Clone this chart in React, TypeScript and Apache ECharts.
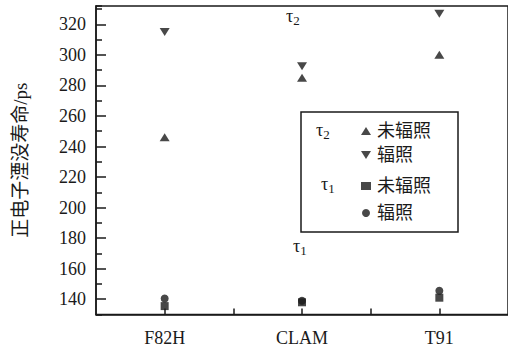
import React, { useEffect, useRef } from "react";
import * as echarts from "echarts";

const categories = ["F82H", "CLAM", "T91"];
const tau2Unirradiated = [246, 285, 300];
const tau2Irradiated = [315, 292.5, 327];
const tau1Unirradiated = [135.5, 138, 141];
const tau1Irradiated = [140.5, 139, 145.5];
const yTickLabels = [140, 160, 180, 200, 220, 240, 260, 280, 300, 320];

const SERIF = "'Liberation Serif', 'Times New Roman', serif";
const CJK = "'Liberation Serif', 'Noto Sans CJK SC', serif";
const INK = "#1a1a1a";
const DOWN_TRIANGLE = "path://M0,0 L10,0 L5,8 Z";

const toPoints = (vals: number[]) => vals.map((v, i) => [i + 1, v]);

const tauRich = {
  t: { fontSize: 18, fontFamily: SERIF, fill: INK, color: INK },
  s: { fontSize: 13, fontFamily: SERIF, fill: INK, color: INK, padding: [9, 0, 0, 0] },
};

export default function App() {
  const ref = useRef<HTMLDivElement>(null);
  useEffect(() => {
    if (!ref.current) return;
    const chart = echarts.init(ref.current, null, { renderer: "svg" });
    const grid = { left: 96, right: -4, top: 6, bottom: 35.5 };
    const legendText = { fontSize: 18, lineHeight: 20, fontFamily: CJK, color: INK, padding: [0, 0, 0, 1] };
    chart.setOption({
      animation: false,
      backgroundColor: "#ffffff",
      grid: { ...grid, show: true, borderColor: INK, borderWidth: 1.5, backgroundColor: "transparent" },
      xAxis: {
        type: "value",
        min: 0.5,
        max: 3.5,
        interval: 0.5,
        splitLine: { show: false },
        axisLine: { show: true, lineStyle: { color: INK, width: 1.5 } },
        axisTick: { show: true, inside: true, length: 6, lineStyle: { color: INK, width: 1.5 } },
        axisLabel: {
          margin: 14,
          fontSize: 18,
          fontFamily: SERIF,
          color: INK,
          showMinLabel: false,
          showMaxLabel: false,
          formatter: (v: number) => (Number.isInteger(v) && v >= 1 && v <= categories.length ? categories[v - 1] : ""),
        },
      },
      yAxis: [
        {
          type: "value",
          min: 130,
          max: 332,
          interval: 20,
          splitLine: { show: false },
          axisLine: { show: true, lineStyle: { color: INK, width: 1.5 } },
          axisTick: { show: true, inside: true, length: 6, lineStyle: { color: INK, width: 1.5 } },
          minorTick: { show: true, splitNumber: 2, length: 10, lineStyle: { color: INK, width: 1.5 } },
          minorSplitLine: { show: false },
          axisLabel: { show: false },
          name: "正电子湮没寿命/ps",
          nameLocation: "middle",
          nameRotate: 90,
          nameGap: 66,
          nameTextStyle: { fontSize: 19, fontFamily: CJK, color: INK },
        },
        {
          type: "value",
          min: 130,
          max: 332,
          interval: 10,
          position: "left",
          splitLine: { show: false },
          axisLine: { show: false },
          axisTick: { show: false },
          axisLabel: {
            margin: 10,
            fontSize: 18,
            fontFamily: SERIF,
            color: INK,
            showMaxLabel: false,
            formatter: (v: number) => (yTickLabels.indexOf(v) >= 0 ? String(v) : ""),
          },
        },
      ],
      legend: [
        {
          data: [{ name: "τ2未辐照" }, { name: "τ2辐照", icon: DOWN_TRIANGLE }],
          orient: "vertical",
          left: 356,
          top: 116,
          itemWidth: 10,
          itemHeight: 8,
          itemGap: 4,
          formatter: (n: string) => n.slice(2),
          textStyle: legendText,
        },
        {
          data: ["τ1未辐照", "τ1辐照"],
          orient: "vertical",
          left: 356,
          top: 171,
          itemWidth: 10,
          itemHeight: 8,
          itemGap: 7,
          formatter: (n: string) => n.slice(2),
          textStyle: legendText,
        },
      ],
      graphic: [
        {
          type: "rect",
          shape: { x: 301, y: 112, width: 157, height: 120 },
          style: { fill: "none", stroke: INK, lineWidth: 1.5 },
          z: 10,
        },
        { type: "text", x: 316, y: 119, style: { text: "{t|τ}{s|2}", rich: tauRich }, z: 10 },
        { type: "text", x: 321, y: 173, style: { text: "{t|τ}{s|1}", rich: tauRich }, z: 10 },
        { type: "text", x: 286, y: 5, style: { text: "{t|τ}{s|2}", rich: tauRich }, z: 10 },
        { type: "text", x: 293, y: 235, style: { text: "{t|τ}{s|1}", rich: tauRich }, z: 10 },
      ],
      series: [
        {
          name: "τ2未辐照",
          type: "scatter",
          yAxisIndex: 0,
          symbol: "triangle",
          symbolSize: [10, 8],
          itemStyle: { color: INK },
          data: toPoints(tau2Unirradiated),
        },
        {
          name: "τ2辐照",
          type: "scatter",
          yAxisIndex: 0,
          symbol: "triangle",
          symbolRotate: 180,
          symbolSize: [10, 8],
          itemStyle: { color: INK },
          data: toPoints(tau2Irradiated),
        },
        {
          name: "τ1未辐照",
          type: "scatter",
          yAxisIndex: 0,
          symbol: "rect",
          symbolSize: 8,
          itemStyle: { color: INK },
          data: toPoints(tau1Unirradiated),
        },
        {
          name: "τ1辐照",
          type: "scatter",
          yAxisIndex: 0,
          symbol: "circle",
          symbolSize: 8,
          itemStyle: { color: INK },
          data: toPoints(tau1Irradiated),
        },
      ],
    });
    return () => chart.dispose();
  }, []);
  return <div ref={ref} style={{ width: 508, height: 350, position: "absolute", left: 0, top: 0 }} />;
}
